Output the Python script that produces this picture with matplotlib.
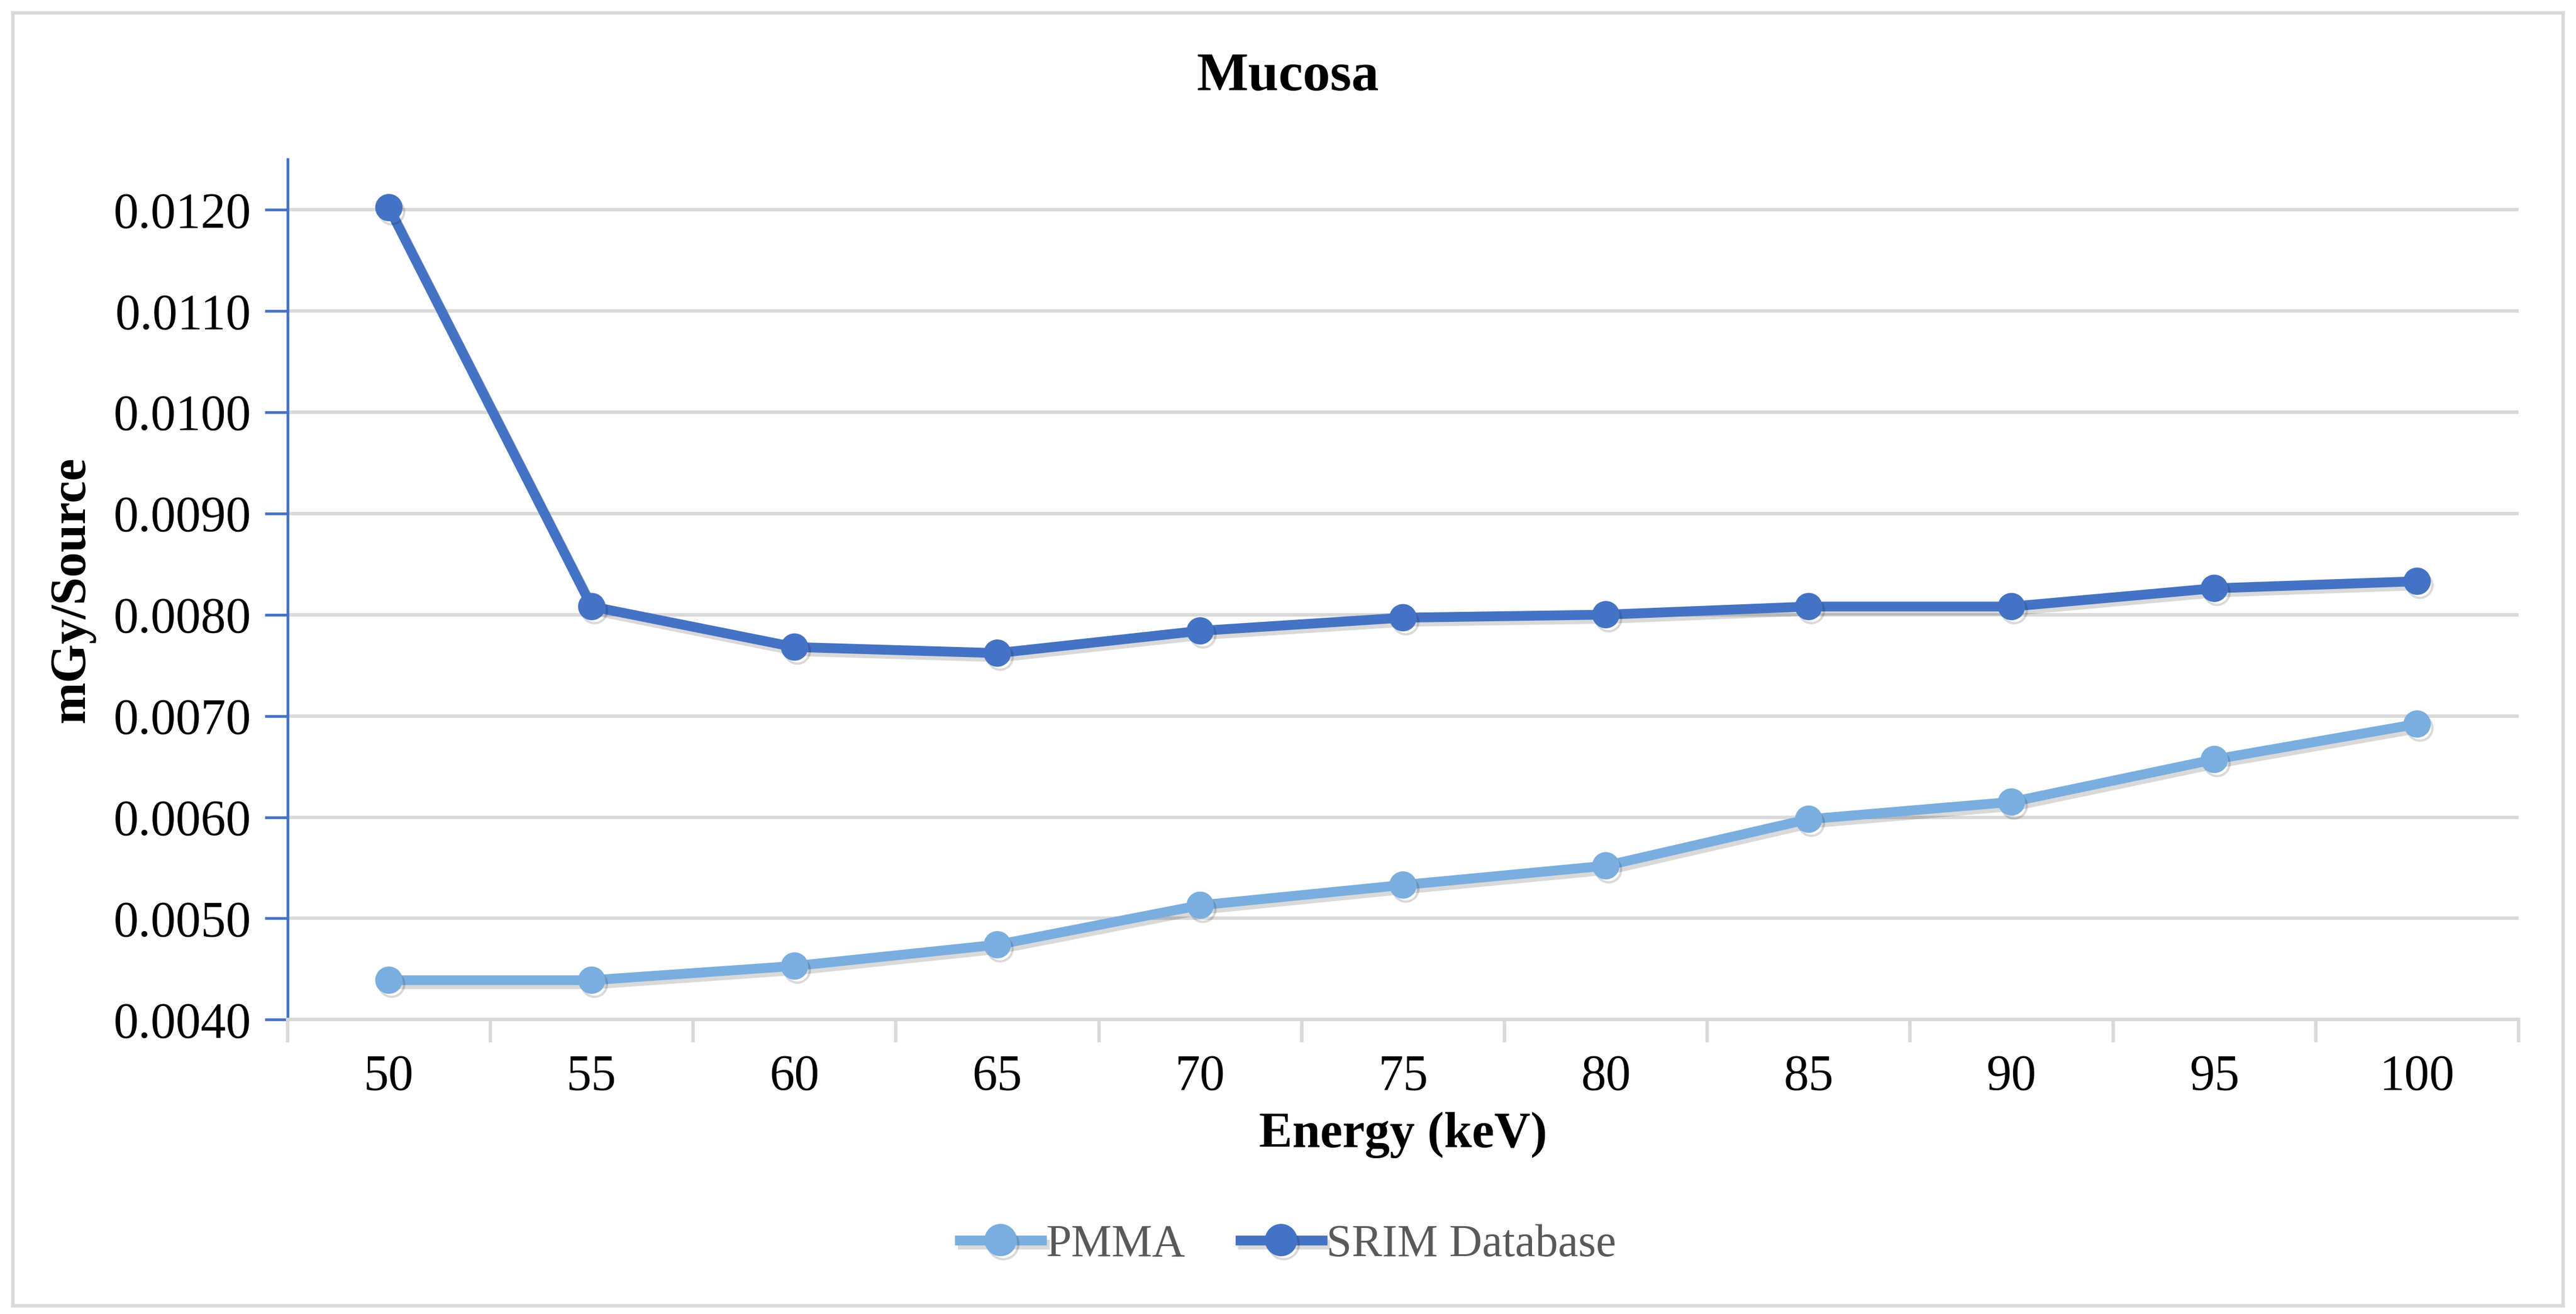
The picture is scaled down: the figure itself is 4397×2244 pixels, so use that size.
import matplotlib.pyplot as plt
import matplotlib.patheffects as pe
from matplotlib.patches import Rectangle
from matplotlib.ticker import FormatStrFormatter, FixedLocator

energy = [50, 55, 60, 65, 70, 75, 80, 85, 90, 95, 100]
pmma = [0.00439, 0.00439, 0.00453, 0.00474, 0.00513, 0.00533, 0.00552, 0.00598, 0.00615, 0.00657, 0.00692]
srim = [0.01202, 0.00808, 0.00768, 0.00762, 0.00784, 0.00797, 0.00800, 0.00808, 0.00808, 0.00826, 0.00833]
yticks = [0.0040, 0.0050, 0.0060, 0.0070, 0.0080, 0.0090, 0.0100, 0.0110, 0.0120]

plt.rcParams['font.family'] = ['Liberation Serif', 'DejaVu Serif']

fig = plt.figure(figsize=(4397 / 280, 2244 / 280), dpi=280)
ax = fig.add_axes([0.1116, 0.224, 0.9777 - 0.1116, 0.879 - 0.224])

# outer chart border
fig.patches.append(Rectangle((8 / 1568, 5 / 800), 1552 / 1568, 787 / 800, transform=fig.transFigure,
                             fill=False, edgecolor='#D9D9D9', linewidth=1.5))

xs = list(range(len(energy)))
shadow = [pe.SimpleLineShadow(offset=(1.2, -1.8), shadow_color='black', alpha=0.15), pe.Normal()]
ax.plot(xs, pmma, color='#7AAEDF', lw=4.3, marker='o', ms=11, label='PMMA',
        solid_joinstyle='round', path_effects=shadow, zorder=3)
ax.plot(xs, srim, color='#4472C4', lw=4.3, marker='o', ms=11, label='SRIM Database',
        solid_joinstyle='round', path_effects=shadow, zorder=4)

ax.set_xlim(-0.5, len(energy) - 0.5)
ax.set_ylim(0.0040, 0.0125)
ax.set_yticks(yticks)
ax.yaxis.set_major_formatter(FormatStrFormatter('%.4f'))
ax.set_xticks(xs)
ax.set_xticklabels([str(e) for e in energy])
ax.xaxis.set_minor_locator(FixedLocator([i - 0.5 for i in range(len(energy) + 1)]))
ax.tick_params(axis='x', which='major', length=0, labelsize=22, pad=15)
ax.tick_params(axis='x', which='minor', length=10, width=1.5, color='#D9D9D9', direction='out')
ax.tick_params(axis='y', length=10, width=1.2, color='#4472C4', labelsize=22, pad=6, direction='out')

ax.grid(axis='y', color='#D9D9D9', lw=1.5)
ax.set_axisbelow(True)
for s in ['top', 'right']:
    ax.spines[s].set_visible(False)
ax.spines['left'].set_color('#4472C4')
ax.spines['left'].set_linewidth(1.2)
ax.spines['bottom'].set_color('#D9D9D9')
ax.spines['bottom'].set_linewidth(1.5)

ax.set_xlabel('Energy (keV)', fontsize=22, fontweight='bold', labelpad=5)
ax.set_ylabel('mGy/Source', fontsize=22, fontweight='bold')
ax.yaxis.set_label_coords(-0.086, 0.5)
fig.text(0.5, 1 - 47 / 800, 'Mucosa', ha='center', va='center', fontsize=24, fontweight='bold')

leg = fig.legend(loc='center', bbox_to_anchor=(0.5, 1 - 758 / 800), ncol=2, frameon=False,
                 fontsize=20, handlelength=1.8, handletextpad=0.1, columnspacing=1.2,
                 markerscale=1.2)
for t in leg.get_texts():
    t.set_color('#595959')

fig.savefig('out.png', dpi=280)
